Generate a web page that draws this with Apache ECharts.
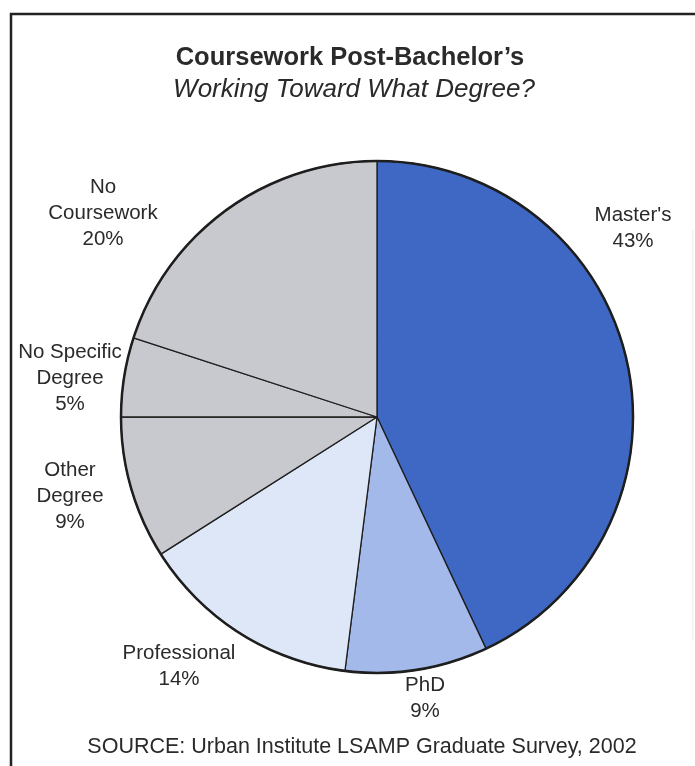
<!DOCTYPE html>
<html>
<head>
<meta charset="utf-8">
<script src="https://cdn.jsdelivr.net/npm/echarts@6/dist/echarts.min.js"></script>
<style>
  html, body { margin: 0; padding: 0; background: #ffffff; }
  #chart { width: 695px; height: 766px; }
</style>
</head>
<body>
<div id="chart"></div>
<script>
// ---- data ----
const categories = ["Master's", "PhD", "Professional", "Other\nDegree", "No Specific\nDegree", "No\nCoursework"];
const percents = [43, 9, 14, 9, 5, 20];
const sliceColors = ['#3f68c4', '#a3b9ea', '#dde7f8', '#c8c9ce', '#c8c9ce', '#c8c9ce'];
const titleText = "Coursework Post-Bachelor\u2019s";
const subtitleText = "Working Toward What Degree?";
const sourceText = "SOURCE: Urban Institute LSAMP Graduate Survey, 2002";

// label anchor positions (layout only)
const labelPos = [
  [633, 228], [425, 698], [179, 666], [70, 496], [70, 378], [103, 213]
];

const FONT = '"Liberation Sans", Arial, Helvetica, sans-serif';
const TXT = '#2a2a2a';
const center = [377, 417];
const R = 256;

const chart = echarts.init(document.getElementById('chart'), null, { renderer: 'canvas' });

chart.setOption({
  backgroundColor: '#ffffff',
  animation: false,
  graphic: [
    { type: 'rect', shape: { x: 11, y: 14, width: 760, height: 800 },
      style: { fill: 'none', stroke: '#222', lineWidth: 2.5 }, silent: true, z: 10 },
    { type: 'line', shape: { x1: 693, y1: 230, x2: 693, y2: 640 },
      style: { stroke: '#ececec', lineWidth: 1 }, silent: true },
    { type: 'text', x: 350, y: 58,
      style: { text: titleText, font: 'bold 25.5px ' + FONT, fill: TXT, textAlign: 'center', textVerticalAlign: 'middle' },
      silent: true },
    { type: 'text', x: 354, y: 90,
      style: { text: subtitleText, font: 'italic 26px ' + FONT, fill: TXT, textAlign: 'center', textVerticalAlign: 'middle' },
      silent: true },
    { type: 'text', x: 362, y: 747,
      style: { text: sourceText, font: '21.5px ' + FONT, fill: TXT, textAlign: 'center', textVerticalAlign: 'middle' },
      silent: true }
  ],
  series: [
    {
      type: 'pie',
      center: center,
      radius: [0, R],
      startAngle: 90,
      clockwise: true,
      avoidLabelOverlap: false,
      label: {
        show: true,
        position: 'outside',
        formatter: p => p.name + '\n' + p.value + '%',
        fontFamily: FONT,
        fontSize: 20.5,
        lineHeight: 26,
        color: TXT,
        align: 'center',
        overflow: 'none',
        alignTo: 'none',
        bleedMargin: 0
      },
      labelLine: { show: false },
      labelLayout: function (params) {
        const pos = labelPos[params.dataIndex];
        return { x: pos[0], y: pos[1], align: 'center', verticalAlign: 'middle', moveOverlap: false, hideOverlap: false };
      },
      itemStyle: { borderColor: '#1e1e1e', borderWidth: 1.3 },
      emphasis: { disabled: true },
      data: categories.map((c, i) => ({ name: c, value: percents[i], itemStyle: { color: sliceColors[i] } }))
    },
    {
      type: 'pie',
      center: center,
      radius: [0, R],
      silent: true,
      label: { show: false },
      labelLine: { show: false },
      itemStyle: { color: 'rgba(0,0,0,0)', borderColor: '#1e1e1e', borderWidth: 2.5 },
      emphasis: { disabled: true },
      data: [{ value: 100, name: 'outline' }],
      z: 3
    }
  ]
});
</script>
</body>
</html>
